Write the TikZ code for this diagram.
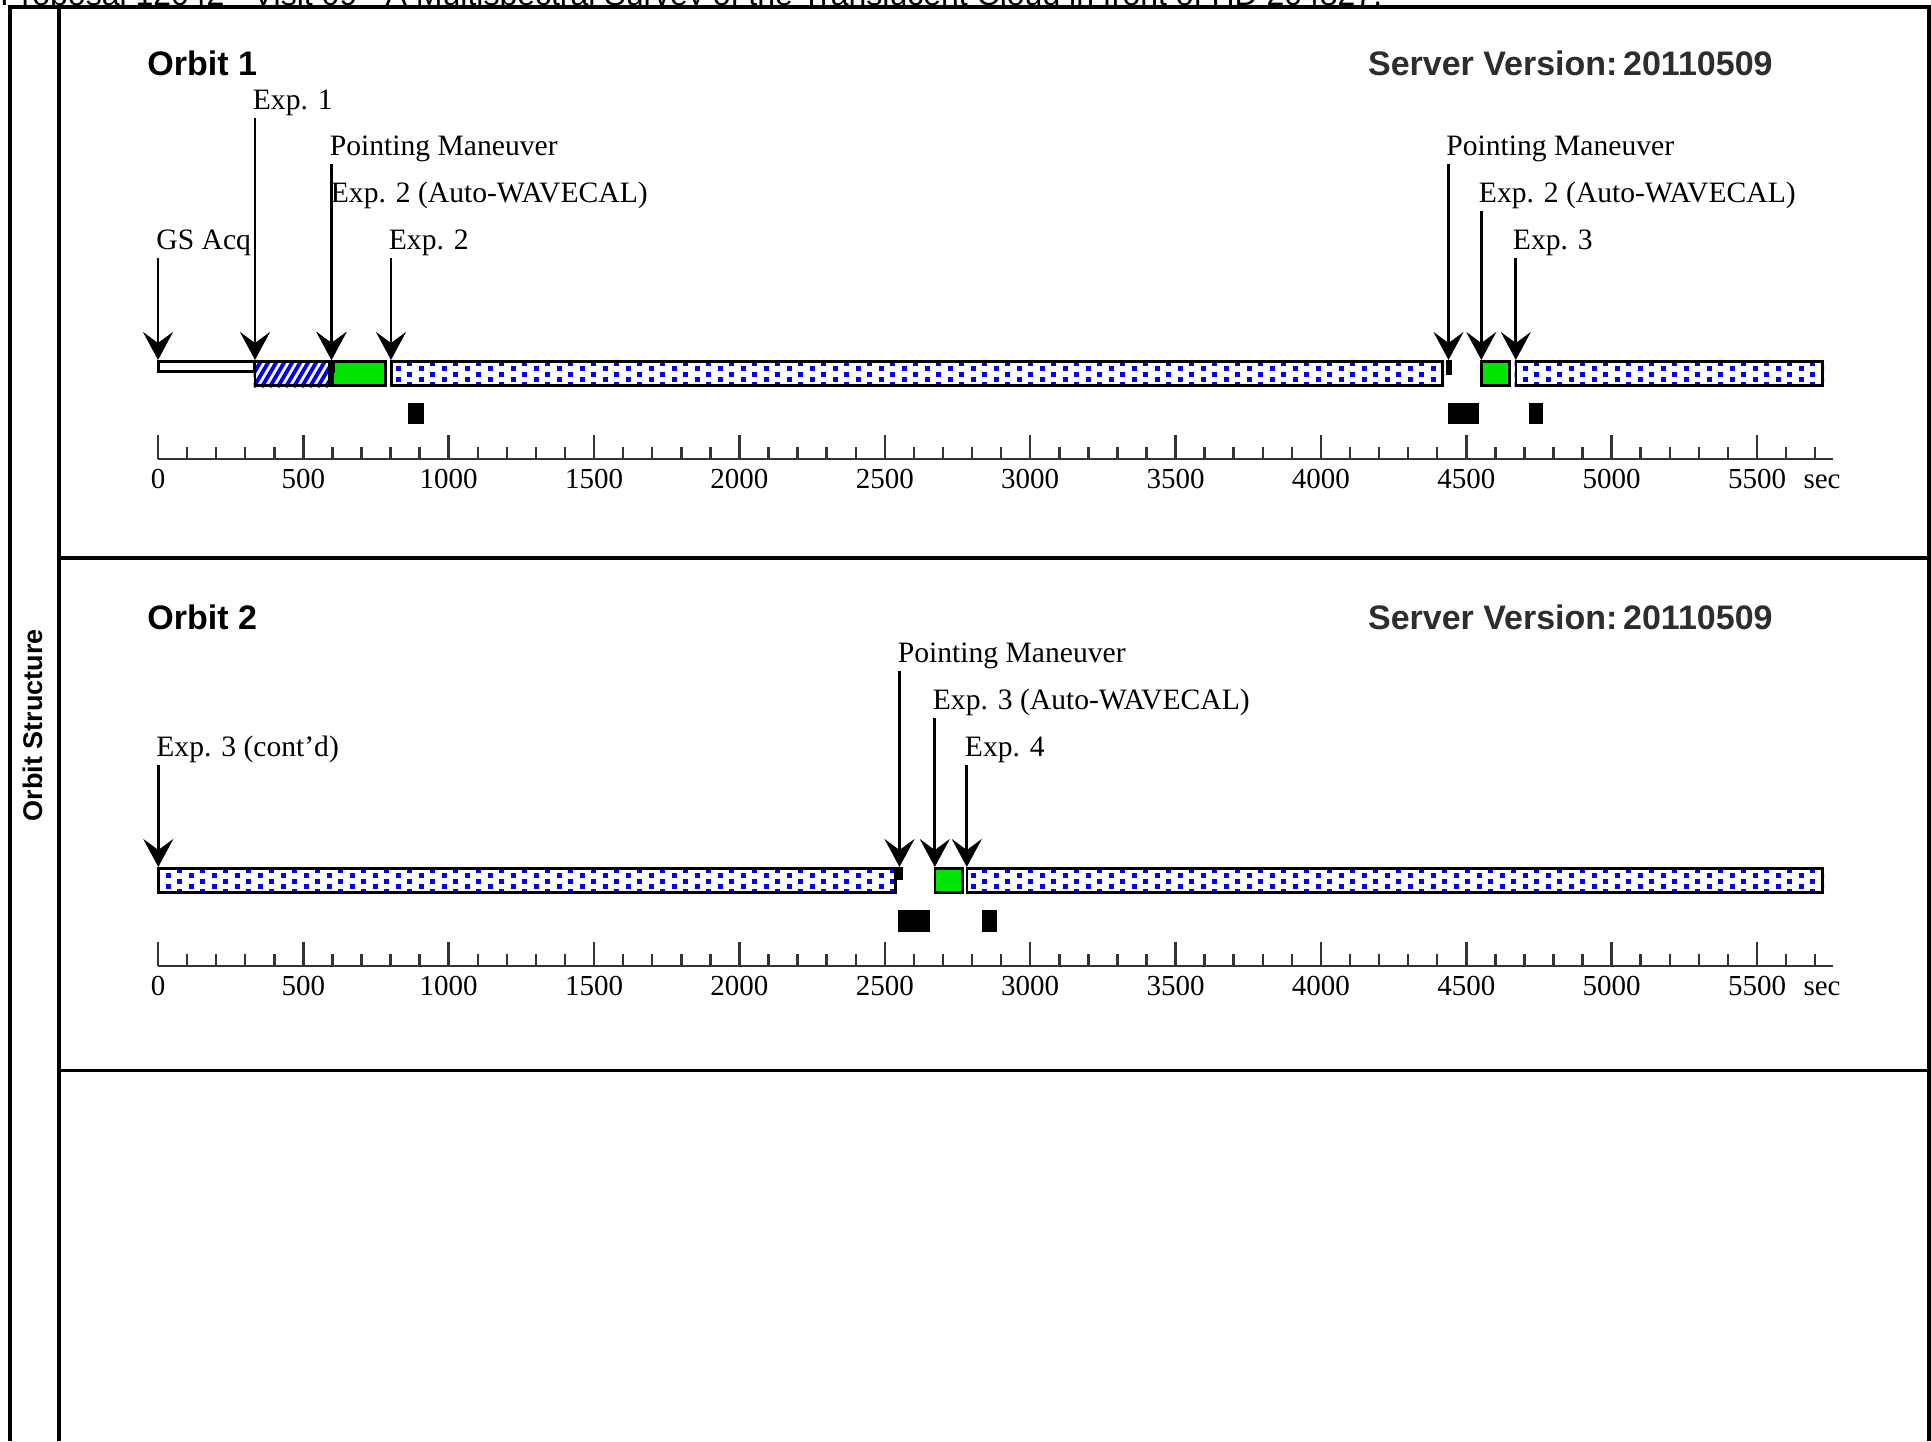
\documentclass[tikz,border=0pt]{standalone}
\usepackage{fontspec}
\setmainfont{Liberation Serif}
\newfontfamily\lsans{Liberation Sans}
\usetikzlibrary{arrows.meta}
\definecolor{dotblue}{RGB}{0,0,255}
\definecolor{calgreen}{RGB}{0,230,0}
\definecolor{axisgray}{RGB}{51,51,51}
\definecolor{titlegray}{RGB}{45,45,45}

% dotted exposure bar: #1 left outer x, #2 right outer x, #3 top y
\newcommand\dotbar[3]{%
  \begin{scope}
    \clip (#1,#3) rectangle (#2,#3+27);
    \fill[white] (#1,#3) rectangle (#2,#3+27);
    \pgfmathtruncatemacro\kfrom{(#1-168)/23-2}%
    \pgfmathtruncatemacro\kto{(#2-168)/23+2}%
    \foreach \k in {\kfrom,...,\kto}{%
      \pgfmathsetmacro\xa{168.2+23*\k}%
      \pgfmathsetmacro\xb{\xa+11.5}%
      \fill[dotblue] (\xb-2.6,#3+1.0) rectangle ++(5.2,5.0);
      \fill[dotblue] (\xa-2.6,#3+6.25) rectangle ++(5.2,5.0);
      \fill[dotblue] (\xb-2.6,#3+11.5) rectangle ++(5.2,5.0);
      \fill[dotblue] (\xa-2.6,#3+16.75) rectangle ++(5.2,5.0);
      \fill[dotblue] (\xb-2.6,#3+22.0) rectangle ++(5.2,5.0);
    }
  \end{scope}
  \draw[barbox] (#1+1.3,#3+1.3) rectangle (#2-1.3,#3+25.7);
}

% time axis: #1 axis y, #2 label baseline y, #3 name prefix
\newcommand\timeaxis[3]{%
  \draw[axisline] (158,#1) -- (1833,#1);
  \foreach \t in {0,100,...,5700}{%
    \pgfmathsetmacro\xx{158+0.29073*\t}%
    \pgfmathtruncatemacro\mm{mod(\t,500)}%
    \ifnum\mm=0
      \draw[axisline] (\xx,#1) -- (\xx,#1-24);
      \node[ticklabel] (#3-\t) at (\xx,#2) {\t};
    \else
      \draw[axisline] (\xx,#1) -- (\xx,#1-12);
    \fi
  }
  \node[ticklabel] (#3-sec) at (1822,#2) {sec};
}

\begin{document}
\begin{tikzpicture}[x=0.5pt,y=-0.5pt,
  frameline/.style={line width=2pt, black},
  barbox/.style={draw=black, line width=1.3pt},
  axisline/.style={line width=1.25pt, axisgray},
  evarrow/.style={line width=1.35pt, -{Stealth[length=14pt,width=15pt,inset=5.5pt]}},
  evlabel/.style={anchor=base west, inner sep=0pt, font=\fontsize{14.8}{15}\selectfont},
  ticklabel/.style={anchor=base, inner sep=0pt, font=\fontsize{14.5}{14.5}\selectfont},
  orbtitle/.style={inner sep=0pt, font=\lsans\bfseries\fontsize{17}{17}\selectfont},
  marker/.style={fill=black}
]
\useasboundingbox (0,0) rectangle (1931,1441);
\begin{scope}
\clip (0,0) rectangle (1931,1441);

% title, cut off at the top edge as in the original
\node[anchor=base west, inner sep=0pt, font=\lsans\fontsize{16}{16}\selectfont] (title) at (0,5.5)
  {Proposal 12042 - Visit 09 - A Multispectral Survey of the Translucent Cloud in front of HD 204827.};

% ---------------- frame ----------------
\fill[white] (0,7) rectangle (1931,1441);
\draw[line width=2.4pt] (8,7) -- (1931,7);
\draw[frameline] (10,7) -- (10,1441);
\draw[frameline] (58.5,7) -- (58.5,1441);
\draw[frameline] (1928.5,7) -- (1928.5,1441);
\draw[frameline] (58.5,558) -- (1928.5,558);
\draw[line width=1.5pt] (58.5,1070) -- (1928.5,1070);

\node[rotate=90, inner sep=0pt, font=\lsans\bfseries\fontsize{13.5}{14}\selectfont] (os) at (33,725) {Orbit Structure};

% ================= ORBIT 1 =================
\node[orbtitle, anchor=base west] (o1) at (147,75) {Orbit 1};
\node[orbtitle, anchor=base east, text=titlegray] (sv1) at (1773,75) {Server Version:\,20110509};

% bars
\fill[white] (157,360) rectangle (253.7,373);
\draw[barbox] (158.3,361.3) rectangle (254.4,371.7);
\begin{scope}
  \clip (253.7,360) rectangle (331,387);
  \foreach \s in {-5,...,12}{\draw[dotblue, line width=1.9pt] (253.7+8*\s,387) -- ++(16,-27);}
\end{scope}
\draw[barbox] (255,361.3) rectangle (329.7,385.7);
\fill[calgreen] (331,360) rectangle (386.7,387);
\draw[barbox] (332.3,361.3) rectangle (385.4,385.7);
\dotbar{390}{1444}{360}
\fill[calgreen] (1480,360) rectangle (1510.5,387);
\draw[barbox] (1481.3,361.3) rectangle (1509.2,385.7);
\dotbar{1514.5}{1824}{360}
\fill[black] (328.5,360) rectangle (334.5,373);
\fill[black] (1446,360) rectangle (1452,375);

% markers
\fill[marker] (408,403) rectangle (424,424);
\fill[marker] (1447.5,403) rectangle (1478.5,424);
\fill[marker] (1529,403) rectangle (1542.5,424);

% labels
\node[evlabel] (l-gs) at (156,249) {GS Acq};
\node[evlabel] (l-e1) at (252.5,109) {Exp. 1};
\node[evlabel] (l-pm1) at (329.5,155) {Pointing Maneuver};
\node[evlabel] (l-wc1) at (330.5,202) {Exp. 2 (Auto-WAVECAL)};
\node[evlabel] (l-e2) at (388.5,249) {Exp. 2};
\node[evlabel] (l-pm2) at (1446,155) {Pointing Maneuver};
\node[evlabel] (l-wc2) at (1478.5,202) {Exp. 2 (Auto-WAVECAL)};
\node[evlabel] (l-e3) at (1512.5,249) {Exp. 3};

% arrows
\coordinate (s-gs) at (158,258);   \coordinate (t-gs) at (158,360);
\coordinate (s-e1) at (255,118);   \coordinate (t-e1) at (255,360);
\coordinate (s-pm1) at (331.5,164); \coordinate (t-pm1) at (331.5,360);
\coordinate (s-wc1) at (331.5,211); \coordinate (t-wc1) at (331.5,360);
\coordinate (s-e2) at (391,258);   \coordinate (t-e2) at (391,360);
\coordinate (s-pm2) at (1448.5,164); \coordinate (t-pm2) at (1448.5,360);
\coordinate (s-wc2) at (1481.3,211); \coordinate (t-wc2) at (1481.3,360);
\coordinate (s-e3) at (1515.8,258); \coordinate (t-e3) at (1515.8,360);
\foreach \a in {gs,e1,pm1,wc1,e2,pm2,wc2,e3}{\draw[evarrow] (s-\a) -- (t-\a);}

\timeaxis{459}{488}{ax1}

% ================= ORBIT 2 =================
\node[orbtitle, anchor=base west] (o2) at (147,629) {Orbit 2};
\node[orbtitle, anchor=base east, text=titlegray] (sv2) at (1773,629) {Server Version:\,20110509};

\dotbar{157}{897}{867}
\fill[calgreen] (933.5,867) rectangle (963.5,894);
\draw[barbox] (934.8,868.3) rectangle (962.2,892.7);
\dotbar{965.5}{1824}{867}
\fill[black] (896.5,867) rectangle (903,880);

\fill[marker] (898,910) rectangle (930,932);
\fill[marker] (982,910) rectangle (996.5,932);

\node[evlabel] (l-e3c) at (156,756) {Exp. 3 (cont'd)};
\node[evlabel] (l-pm3) at (897.5,662) {Pointing Maneuver};
\node[evlabel] (l-wc3) at (932.5,709) {Exp. 3 (Auto-WAVECAL)};
\node[evlabel] (l-e4) at (964.5,756) {Exp. 4};

\coordinate (s-e3c) at (158.3,765); \coordinate (t-e3c) at (158.3,867);
\coordinate (s-pm3) at (899.5,671); \coordinate (t-pm3) at (899.5,867);
\coordinate (s-wc3) at (934.8,718); \coordinate (t-wc3) at (934.8,867);
\coordinate (s-e4) at (966.8,765);  \coordinate (t-e4) at (966.8,867);
\foreach \a in {e3c,pm3,wc3,e4}{\draw[evarrow] (s-\a) -- (t-\a);}

\timeaxis{966}{995}{ax2}
\end{scope}
\end{tikzpicture}
\end{document}
